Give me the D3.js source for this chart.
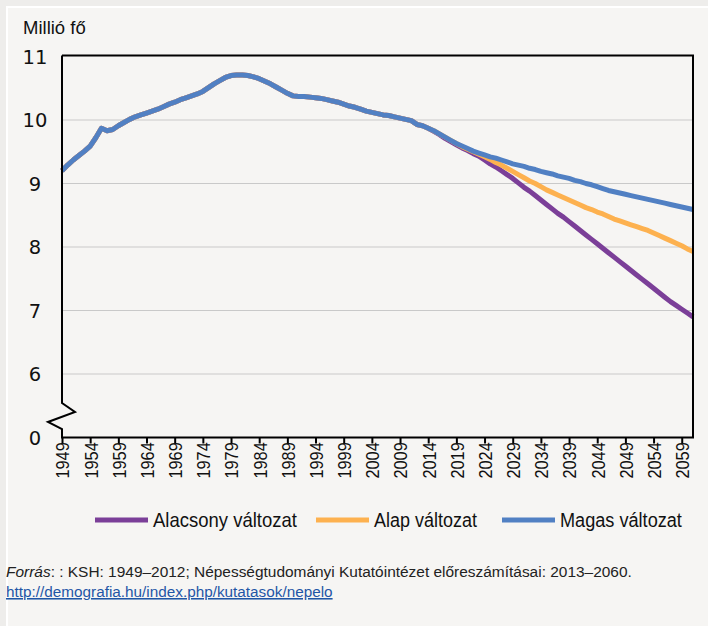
<!DOCTYPE html>
<html><head><meta charset="utf-8">
<script src="https://cdn.jsdelivr.net/npm/d3@7"></script>
<style>
html,body{margin:0;padding:0;background:#eeedeb;}
svg{display:block;}
</style></head><body>
<svg id="chart" width="708" height="626"></svg>
<script>
// ---- data ----
const histYears = [1949,1950,1951,1952,1953,1954,1955,1956,1957,1958,1959,1960,1961,1962,1963,1964,1965,1966,1967,1968,1969,1970,1971,1972,1973,1974,1975,1976,1977,1978,1979,1980,1981,1982,1983,1984,1985,1986,1987,1988,1989,1990,1991,1992,1993,1994,1995,1996,1997,1998,1999,2000,2001,2002,2003,2004,2005,2006,2007,2008,2009,2010,2011,2012,2013];
const histValues = [9.20,9.29,9.37,9.44,9.51,9.59,9.72,9.87,9.83,9.85,9.91,9.96,10.01,10.05,10.08,10.11,10.14,10.17,10.21,10.25,10.28,10.32,10.35,10.38,10.41,10.45,10.51,10.57,10.62,10.67,10.70,10.71,10.71,10.70,10.68,10.65,10.61,10.57,10.52,10.47,10.42,10.38,10.37,10.37,10.36,10.35,10.34,10.32,10.30,10.28,10.25,10.22,10.20,10.17,10.14,10.12,10.10,10.08,10.07,10.05,10.03,10.01,9.99,9.93,9.91];
const projYears = [2014,2015,2016,2017,2018,2019,2020,2021,2022,2023,2024,2025,2026,2027,2028,2029,2030,2031,2032,2033,2034,2035,2036,2037,2038,2039,2040,2041,2042,2043,2044,2045,2046,2047,2048,2049,2050,2051,2052,2053,2054,2055,2056,2057,2058,2059,2060,2061];
const lowValues  = [9.87,9.82,9.77,9.71,9.66,9.61,9.56,9.52,9.47,9.43,9.37,9.31,9.26,9.20,9.14,9.08,9.01,8.94,8.88,8.81,8.74,8.67,8.60,8.53,8.47,8.40,8.33,8.26,8.19,8.12,8.05,7.98,7.91,7.84,7.77,7.70,7.63,7.56,7.49,7.42,7.35,7.28,7.21,7.14,7.08,7.02,6.96,6.90];
const baseValues = [9.87,9.83,9.78,9.73,9.68,9.63,9.58,9.54,9.50,9.46,9.42,9.38,9.33,9.29,9.24,9.19,9.14,9.09,9.04,9.00,8.95,8.90,8.86,8.82,8.78,8.74,8.70,8.66,8.62,8.59,8.55,8.52,8.48,8.44,8.41,8.38,8.35,8.32,8.29,8.26,8.22,8.18,8.14,8.10,8.06,8.02,7.97,7.93];
const highValues = [9.87,9.83,9.78,9.73,9.68,9.63,9.59,9.55,9.51,9.48,9.45,9.42,9.40,9.37,9.34,9.31,9.29,9.27,9.24,9.22,9.19,9.17,9.15,9.12,9.10,9.08,9.05,9.03,9.00,8.98,8.95,8.92,8.89,8.87,8.85,8.83,8.81,8.79,8.77,8.75,8.73,8.71,8.69,8.67,8.65,8.63,8.61,8.59];
const seriesNames = ["Alacsony változat","Alap változat","Magas változat"];
const seriesColors = ["#7b3f98","#fdb14f","#5180c3"];
const xTickYears = [1949,1954,1959,1964,1969,1974,1979,1984,1989,1994,1999,2004,2009,2014,2019,2024,2029,2034,2039,2044,2049,2054,2059];
const yTickValues = [0,6,7,8,9,10,11];
const yAxisTitle = "Millió fő";
const sourceLabel = "Forrás";
const sourceText = ": : KSH: 1949–2012; Népességtudományi Kutatóintézet előreszámításai: 2013–2060.";
const sourceUrl = "http://demografia.hu/index.php/kutatasok/nepelo";

// ---- layout ----
const svg = d3.select("#chart");
const L = 62, R = 693, T = 56.5, B = 437.5;
const x = d3.scaleLinear().domain([1949, 2061]).range([L, R]);
// broken axis: "0" sits one step below 6
const yLin = d3.scaleLinear().domain([5, 11]).range([B, T]);
const y = v => v === 0 ? yLin(5) : yLin(v);

// panel
svg.append("rect").attr("x",0).attr("y",0).attr("width",708).attr("height",626).attr("fill","#eeedeb");
svg.append("rect").attr("x",7).attr("y",7).attr("width",720).attr("height",640)
  .attr("fill","#f6f5f3").attr("stroke","#ffffff").attr("stroke-width",2);

// gridlines
svg.append("g").selectAll("line").data(yTickValues.filter(v => v > 0 && v < 11)).join("line")
  .attr("x1", L).attr("x2", R).attr("y1", d => y(d)).attr("y2", d => y(d))
  .attr("stroke", "#c9c9c9").attr("stroke-width", 1.2);

// y labels
svg.append("g").selectAll("text").data(yTickValues).join("text")
  .attr("x", 35).attr("y", d => y(d)).attr("dy", "0.36em")
  .attr("text-anchor", "middle")
  .attr("font-family", "'DejaVu Sans', sans-serif").attr("font-size", 19.5)
  .attr("fill", "#111").text(d => d);

svg.append("text").attr("x", 23).attr("y", 34)
  .attr("font-family", "'Liberation Sans', Arial, sans-serif").attr("font-size", 18.5)
  .attr("fill", "#111").text(yAxisTitle);

// lines
const line = d3.line().x(d => x(d[0])).y(d => y(d[1])).curve(d3.curveLinear);
const allSeries = [lowValues, baseValues, highValues].map(vals =>
  histYears.map((yr, i) => [yr, histValues[i]]).concat(projYears.map((yr, i) => [yr, vals[i]])));
svg.append("g").selectAll("path").data(allSeries).join("path")
  .attr("d", line).attr("fill", "none")
  .attr("stroke", (d, i) => seriesColors[i]).attr("stroke-width", 5)
  .attr("stroke-linejoin", "round").attr("stroke-linecap", "butt");

// frame: top and right
svg.append("path").attr("d", `M${L},${T-1}H${R}V${B}`).attr("fill","none").attr("stroke","#000").attr("stroke-width",2);
// left axis with break
const yb1 = 403, yb2 = 429;
svg.append("path")
  .attr("d", `M${L},${T-1}V${yb1}L75,412L48,422L${L},${yb2}V${B}`)
  .attr("fill","none").attr("stroke","#000").attr("stroke-width",2).attr("stroke-linejoin","miter");
// bottom axis
const xAxis = d3.axisBottom(x).tickValues(xTickYears).tickSize(6).tickFormat(d3.format("d"));
const gx = svg.append("g").attr("transform", `translate(0,${B})`).call(xAxis);
gx.select(".domain").attr("stroke","#000").attr("stroke-width",2).attr("d", `M${L-1},0H${R+1}`);
gx.selectAll(".tick line").attr("stroke","#000").attr("stroke-width",2);
gx.selectAll(".tick text")
  .attr("font-family", "'Liberation Sans', Arial, sans-serif").attr("font-size", 19)
  .attr("fill","#111")
  .attr("transform","rotate(-90) scale(0.86,1)").attr("text-anchor","end")
  .attr("x", -5.5).attr("y", 0).attr("dy", "0.36em");

// legend
const legX = [95, 316, 502];
const legW = [144, 103, 122];
const legY = 520;
const lg = svg.append("g");
seriesNames.forEach((name, i) => {
  lg.append("line").attr("x1", legX[i]).attr("x2", legX[i] + 53).attr("y1", legY).attr("y2", legY)
    .attr("stroke", seriesColors[i]).attr("stroke-width", 5);
  const t = lg.append("text").attr("font-family","'Liberation Sans', Arial, sans-serif")
    .attr("font-size", 20).attr("fill","#111").text(name);
  const w = t.node().getComputedTextLength();
  t.attr("transform", `translate(${legX[i] + 58},${legY + 7}) scale(${legW[i]/w},1)`);
});

// source
const s1 = svg.append("text").attr("font-family","'Liberation Sans', Arial, sans-serif")
  .attr("font-size", 15.5).attr("fill","#222");
s1.append("tspan").attr("font-style","italic").text(sourceLabel);
s1.append("tspan").text(sourceText);
const w1 = s1.node().getComputedTextLength();
s1.attr("transform", `translate(6,577) scale(${626/w1},1)`);

const s2 = svg.append("text").attr("font-family","'Liberation Sans', Arial, sans-serif")
  .attr("font-size", 15.5).attr("fill","#1f56a6").attr("text-decoration","underline").text(sourceUrl);
const w2 = s2.node().getComputedTextLength();
s2.attr("transform", `translate(6,597) scale(${327/w2},1)`);
</script>
</body></html>
